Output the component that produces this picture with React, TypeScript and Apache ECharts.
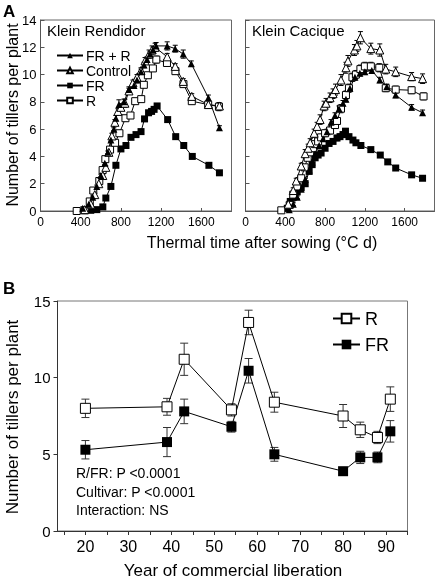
import React, { useEffect, useRef } from "react";
import * as echarts from "echarts";

// ---------- Panel A, Klein Rendidor ----------
const frrLx = [420, 480, 520, 560, 600, 640, 670, 700, 730, 750, 780, 830, 880, 930, 960, 1000, 1030, 1060, 1090, 1120, 1150, 1260, 1340, 1420, 1500, 1670, 1780];
const frrLy = [0.2, 0.5, 1.0, 1.8, 2.6, 3.5, 4.3, 5.2, 6.0, 6.8, 7.8, 8.0, 8.9, 9.2, 9.6, 10.2, 10.7, 11.1, 11.5, 11.8, 12.1, 12.1, 11.9, 11.5, 10.8, 8.3, 6.1];
const frrLe = [0.1, 0.1, 0.1, 0.1, 0.1, 0.1, 0.1, 0.1, 0.1, 0.2, 0.35, 0.2, 0.2, 0.2, 0.2, 0.2, 0.2, 0.2, 0.2, 0.2, 0.25, 0.3, 0.25, 0.3, 0.2, 0.2, 0.15];

const ctlLx = [440, 500, 540, 580, 620, 650, 680, 710, 740, 770, 800, 840, 880, 920, 960, 1000, 1040, 1080, 1110, 1140, 1260, 1340, 1420, 1505, 1670, 1780];
const ctlLy = [0.1, 0.5, 1.2, 2.0, 2.6, 3.2, 4.3, 5.5, 6.5, 7.3, 7.6, 7.9, 8.8, 9.4, 9.8, 10.3, 11.0, 11.5, 11.8, 12.0, 11.3, 10.6, 9.5, 8.4, 7.8, 7.7];
const ctlLe = [0.1, 0.1, 0.1, 0.1, 0.1, 0.1, 0.1, 0.2, 0.2, 0.2, 0.2, 0.3, 0.2, 0.2, 0.2, 0.2, 0.25, 0.3, 0.3, 0.3, 0.25, 0.2, 0.2, 0.2, 0.2, 0.2];

const frLx = [500, 560, 620, 650, 700, 750, 800, 850, 900, 950, 1000, 1035, 1075, 1105, 1130, 1160, 1265, 1345, 1425, 1510, 1675, 1780];
const frLy = [0.05, 0.1, 0.3, 0.95, 1.8, 3.35, 4.55, 4.8, 5.4, 5.6, 5.82, 6.75, 7.2, 7.3, 7.45, 7.7, 6.7, 5.45, 4.8, 4.0, 3.35, 2.8];
const frLe = [0.05, 0.05, 0.1, 0.1, 0.1, 0.15, 0.15, 0.15, 0.15, 0.15, 0.15, 0.15, 0.15, 0.15, 0.15, 0.15, 0.15, 0.15, 0.15, 0.15, 0.15, 0.15];

const rLx = [360, 440, 490, 525, 585, 618, 645, 692, 742, 785, 845, 895, 942, 1002, 1028, 1068, 1118, 1152, 1258, 1342, 1422, 1505, 1668, 1775];
const rLy = [0.0, 0.05, 0.7, 1.5, 2.2, 3.0, 3.8, 4.5, 5.0, 5.7, 6.8, 7.0, 8.05, 8.2, 9.25, 9.95, 10.45, 11.1, 10.85, 10.25, 9.3, 8.05, 7.8, 7.65];
const rLe = [0.05, 0.05, 0.1, 0.1, 0.1, 0.1, 0.15, 0.15, 0.15, 0.15, 0.2, 0.2, 0.2, 0.2, 0.2, 0.2, 0.2, 0.25, 0.2, 0.2, 0.2, 0.2, 0.2, 0.3];

// ---------- Panel A, Klein Cacique ----------
const frrRx = [440, 480, 520, 560, 600, 640, 670, 700, 740, 780, 820, 860, 900, 940, 980, 1010, 1050, 1100, 1150, 1200, 1270, 1350, 1420, 1510, 1670, 1780];
const frrRy = [0.1, 0.5, 1.0, 1.6, 2.3, 3.0, 3.6, 4.2, 4.8, 5.3, 5.8, 6.5, 7.0, 7.5, 7.9, 8.2, 9.0, 9.8, 10.1, 10.2, 10.3, 9.6, 9.1, 8.5, 7.6, 7.2];
const frrRe = [0.1, 0.1, 0.1, 0.1, 0.1, 0.15, 0.15, 0.15, 0.15, 0.2, 0.2, 0.2, 0.2, 0.2, 0.2, 0.2, 0.2, 0.2, 0.2, 0.2, 0.2, 0.2, 0.2, 0.2, 0.2, 0.2];

const ctlRx = [430, 480, 510, 560, 600, 630, 650, 690, 720, 750, 790, 810, 850, 880, 905, 960, 1010, 1030, 1095, 1120, 1155, 1260, 1350, 1410, 1510, 1670, 1780];
const ctlRy = [0.5, 1.5, 2.2, 3.3, 4.2, 4.6, 5.0, 5.7, 6.2, 6.7, 7.7, 7.9, 8.3, 8.6, 8.9, 9.6, 10.5, 11.0, 11.8, 12.1, 12.7, 11.9, 11.8, 10.4, 10.2, 9.85, 9.7];
const ctlRe = [0.1, 0.2, 0.2, 0.2, 0.3, 0.3, 0.3, 0.3, 0.3, 0.35, 0.35, 0.35, 0.35, 0.35, 0.4, 0.4, 0.4, 0.4, 0.4, 0.4, 0.45, 0.4, 0.45, 0.35, 0.35, 0.3, 0.35];

const frRx = [420, 450, 480, 520, 560, 600, 640, 670, 700, 730, 760, 800, 840, 880, 920, 950, 980, 1005, 1040, 1080, 1110, 1160, 1260, 1355, 1430, 1510, 1670, 1780];
const frRy = [0.2, 0.7, 1.0, 1.4, 1.7, 2.0, 2.9, 3.4, 3.9, 4.1, 4.25, 4.6, 4.95, 5.1, 5.35, 5.45, 5.6, 5.85, 5.45, 5.2, 5.0, 4.8, 4.5, 4.1, 3.6, 3.15, 2.65, 2.4];
const frRe = [0.1, 0.1, 0.1, 0.15, 0.15, 0.15, 0.15, 0.15, 0.15, 0.15, 0.15, 0.15, 0.15, 0.15, 0.2, 0.2, 0.2, 0.2, 0.15, 0.15, 0.15, 0.15, 0.15, 0.15, 0.15, 0.15, 0.15, 0.15];

const rRx = [360, 445, 480, 520, 560, 595, 625, 650, 680, 700, 730, 760, 800, 850, 900, 920, 960, 1010, 1040, 1075, 1110, 1155, 1200, 1260, 1345, 1410, 1510, 1670, 1790];
const rRy = [0.05, 0.45, 1.2, 1.8, 2.4, 3.2, 3.9, 4.3, 4.6, 4.9, 5.1, 5.4, 5.7, 5.9, 6.3, 6.6, 7.5, 8.5, 9.0, 9.8, 10.0, 10.4, 10.6, 10.6, 10.5, 9.0, 8.9, 8.85, 8.4];
const rRe = [0.05, 0.1, 0.1, 0.15, 0.15, 0.2, 0.2, 0.2, 0.2, 0.2, 0.2, 0.2, 0.25, 0.25, 0.25, 0.25, 0.3, 0.3, 0.3, 0.3, 0.3, 0.3, 0.3, 0.3, 0.3, 0.25, 0.25, 0.25, 0.25];

const xTicksA = [0, 400, 800, 1200, 1600];

// ---------- Panel B ----------
const years = [20, 39, 43, 54, 58, 64, 80, 84, 88, 91];
const rB = [8.0, 8.1, 11.2, 7.9, 13.6, 8.4, 7.5, 6.6, 6.1, 8.6];
const rBerr = [0.6, 0.55, 1.05, 0.4, 0.8, 0.65, 0.75, 0.5, 0.4, 0.8];
const frB = [5.3, 5.8, 7.8, 6.8, 10.45, 5.0, 3.9, 4.8, 4.8, 6.5];
const frBerr = [0.6, 0.95, 0.8, 0.35, 0.8, 0.45, 0.2, 0.4, 0.35, 0.7];
const yearTicks = [15, 20, 25, 30, 35, 40, 45, 50, 55, 60, 65, 70, 75, 80, 85, 90, 95];
const yearLabels = [20, 30, 40, 50, 60, 70, 80, 90];

const statLines = ["R/FR: P <0.0001", "Cultivar: P <0.0001", "Interaction: NS"];

const FONT = "'Liberation Sans', Arial, sans-serif";

function zip(xs: number[], ys: number[]) {
  return xs.map((x, i) => [x, ys[i]]);
}

function errSeries(xs: number[], ys: number[], es: number[], axis: number, cap: number, color: string) {
  return {
    type: "custom",
    xAxisIndex: axis,
    yAxisIndex: axis,
    silent: true,
    z: 1,
    encode: { x: 0, y: 1 },
    data: xs.map((x, i) => [x, ys[i], es[i]]),
    renderItem: (params: any, api: any) => {
      const x = api.value(0);
      const y = api.value(1);
      const e = api.value(2);
      const t = api.coord([x, y + e]);
      const b = api.coord([x, y - e]);
      const h = cap / 2;
      const st = { stroke: color, lineWidth: 1 };
      return {
        type: "group",
        children: [
          { type: "line", shape: { x1: t[0], y1: t[1], x2: b[0], y2: b[1] }, style: st },
          { type: "line", shape: { x1: t[0] - h, y1: t[1], x2: t[0] + h, y2: t[1] }, style: st },
          { type: "line", shape: { x1: b[0] - h, y1: b[1], x2: b[0] + h, y2: b[1] }, style: st },
        ],
      };
    },
  };
}

function lineSeries(name: string, data: number[][], axis: number, symbol: string, size: number, filled: boolean, lw = 1) {
  return {
    type: "line",
    name,
    xAxisIndex: axis,
    yAxisIndex: axis,
    data,
    z: 3,
    symbol,
    symbolSize: size,
    showSymbol: true,
    lineStyle: { color: "#000", width: lw },
    itemStyle: filled
      ? { color: "#000", borderColor: "#000", borderWidth: 0 }
      : { color: "#fff", borderColor: "#000", borderWidth: 1 },
    emphasis: { disabled: true },
  };
}

export default function App() {
  const ref = useRef<HTMLDivElement>(null);
  useEffect(() => {
    if (!ref.current) return;
    const chart = echarts.init(ref.current, null, { renderer: "svg" });

    const axisA = (idx: number, showY: boolean) => ({
      x: {
        type: "value",
        gridIndex: idx,
        min: 0,
        max: 1900,
        axisLine: { show: true, lineStyle: { color: "#555", width: 1 } },
        axisTick: { show: true, inside: true, length: 3, customValues: xTicksA, lineStyle: { color: "#555" } },
        axisLabel: {
          show: true,
          customValues: xTicksA,
          fontSize: 12,
          color: "#000",
          fontFamily: FONT,
          margin: 5,
          formatter: (v: number) => String(v),
        },
        splitLine: { show: false },
      },
      y: {
        type: "value",
        gridIndex: idx,
        min: 0,
        max: 14,
        interval: 2,
        axisLine: { show: true, lineStyle: { color: "#555", width: 1 } },
        axisTick: { show: true, inside: true, length: 4, lineStyle: { color: "#555" } },
        axisLabel: { show: showY, fontSize: 13, color: "#000", fontFamily: FONT, margin: 4 },
        splitLine: { show: false },
      },
    });
    const aL = axisA(0, true);
    const aR = axisA(1, false);

    const option: any = {
      animation: false,
      textStyle: { fontFamily: FONT },
      grid: [
        { left: 40.5, top: 20, width: 191, height: 191, show: true, borderColor: "#666", borderWidth: 1, backgroundColor: "transparent" },
        { left: 245.5, top: 20, width: 189, height: 191, show: true, borderColor: "#666", borderWidth: 1, backgroundColor: "transparent" },
        { left: 57.5, top: 301, width: 350, height: 230, show: true, borderColor: "#777", borderWidth: 1, backgroundColor: "transparent" },
      ],
      xAxis: [
        aL.x,
        aR.x,
        {
          type: "value",
          gridIndex: 2,
          min: 13.5,
          max: 95,
          axisLine: { show: true, lineStyle: { color: "#333", width: 1 } },
          axisTick: { show: true, inside: false, length: 4, customValues: yearTicks, lineStyle: { color: "#333" } },
          axisLabel: { show: true, customValues: yearLabels, fontSize: 16, color: "#000", fontFamily: FONT, margin: 7 },
          splitLine: { show: false },
        },
      ],
      yAxis: [
        aL.y,
        aR.y,
        {
          type: "value",
          gridIndex: 2,
          min: 0,
          max: 15,
          interval: 5,
          axisLine: { show: true, lineStyle: { color: "#333", width: 1 } },
          axisTick: { show: true, inside: false, length: 4, lineStyle: { color: "#333" } },
          axisLabel: { show: true, fontSize: 15, color: "#000", fontFamily: FONT, margin: 7 },
          splitLine: { show: false },
        },
      ],
      legend: [
        {
          data: ["FR + R", "Control", "FR", "R"],
          orient: "vertical",
          left: 51,
          top: 43,
          itemWidth: 26,
          itemHeight: 7,
          itemGap: 0,
          selectedMode: false,
          textStyle: { fontSize: 14, lineHeight: 15, color: "#000", fontFamily: FONT, padding: [0, 0, 0, -2] },
        },
        {
          data: ["R", "FR"],
          orient: "vertical",
          left: 327,
          top: 304,
          itemWidth: 27,
          itemHeight: 12,
          itemGap: 7,
          selectedMode: false,
          textStyle: { fontSize: 18, lineHeight: 19, color: "#000", fontFamily: FONT },
        },
      ],
      graphic: [
        { type: "text", left: 3, top: 3, style: { text: "A", font: `bold 17px ${FONT}`, fill: "#000" } },
        { type: "text", left: 3, top: 280, style: { text: "B", font: `bold 17px ${FONT}`, fill: "#000" } },
        { type: "text", left: 47, top: 23, style: { text: "Klein Rendidor", font: `15px ${FONT}`, fill: "#000" } },
        { type: "text", left: 252, top: 23, style: { text: "Klein Cacique", font: `15px ${FONT}`, fill: "#000" } },
        {
          type: "text",
          x: 12,
          y: 115,
          rotation: Math.PI / 2,
          style: { text: "Number of tillers per plant", font: `16px ${FONT}`, fill: "#000", textAlign: "center", textVerticalAlign: "middle" },
        },
        {
          type: "text",
          x: 262,
          y: 242,
          style: { text: "Thermal time after sowing (°C d)", font: `16px ${FONT}`, fill: "#000", textAlign: "center", textVerticalAlign: "middle" },
        },
        {
          type: "text",
          x: 12,
          y: 417,
          rotation: Math.PI / 2,
          style: { text: "Number of tillers per plant", font: `17px ${FONT}`, fill: "#000", textAlign: "center", textVerticalAlign: "middle" },
        },
        {
          type: "text",
          x: 233,
          y: 570,
          style: { text: "Year of commercial liberation", font: `17px ${FONT}`, fill: "#000", textAlign: "center", textVerticalAlign: "middle" },
        },
        ...statLines.map((t, i) => ({
          type: "text",
          x: 76,
          y: 473 + i * 18.7,
          style: { text: t, font: `14px ${FONT}`, fill: "#000", textAlign: "left", textVerticalAlign: "middle" },
        })),
      ],
      series: [
        errSeries(frrLx, frrLy, frrLe, 0, 5, "#000"),
        errSeries(ctlLx, ctlLy, ctlLe, 0, 5, "#000"),
        errSeries(frLx, frLy, frLe, 0, 5, "#000"),
        errSeries(rLx, rLy, rLe, 0, 5, "#000"),
        lineSeries("FR", zip(frLx, frLy), 0, "rect", 7, true),
        lineSeries("R", zip(rLx, rLy), 0, "rect", 7, false),
        lineSeries("Control", zip(ctlLx, ctlLy), 0, "triangle", 8, false),
        lineSeries("FR + R", zip(frrLx, frrLy), 0, "triangle", 7, true),

        errSeries(frrRx, frrRy, frrRe, 1, 5, "#000"),
        errSeries(ctlRx, ctlRy, ctlRe, 1, 5, "#000"),
        errSeries(frRx, frRy, frRe, 1, 5, "#000"),
        errSeries(rRx, rRy, rRe, 1, 5, "#000"),
        lineSeries("FR", zip(frRx, frRy), 1, "rect", 7, true),
        lineSeries("R", zip(rRx, rRy), 1, "rect", 7, false),
        lineSeries("FR + R", zip(frrRx, frrRy), 1, "triangle", 7, true),
        lineSeries("Control", zip(ctlRx, ctlRy), 1, "triangle", 8, false),

        errSeries(years, rB, rBerr, 2, 8, "#333"),
        errSeries(years, frB, frBerr, 2, 8, "#333"),
        lineSeries("R", zip(years, rB), 2, "rect", 10, false),
        lineSeries("FR", zip(years, frB), 2, "rect", 10, true),
      ],
    };
    chart.setOption(option);
    return () => chart.dispose();
  }, []);
  return <div ref={ref} style={{ position: "fixed", left: 0, top: 0, width: 438, height: 579 }} />;
}
